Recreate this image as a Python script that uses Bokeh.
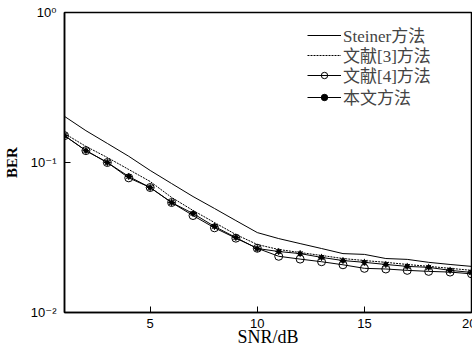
from bokeh.plotting import figure
from bokeh.models import Legend, LegendItem, FixedTicker
from bokeh.embed import file_html
from bokeh.resources import INLINE

snr = list(range(1, 21))
ber_steiner = [0.203, 0.163, 0.134, 0.110, 0.0885, 0.0724, 0.0593, 0.0494, 0.041, 0.0341,
               0.0311, 0.0288, 0.0267, 0.0247, 0.0244, 0.0229, 0.0226, 0.0216, 0.0209, 0.0203]
ber_ref3 = [0.156, 0.128, 0.108, 0.0898, 0.0747, 0.0585, 0.0479, 0.0398, 0.0331, 0.0284,
            0.0263, 0.0251, 0.024, 0.0229, 0.0222, 0.0216, 0.0209, 0.0203, 0.0197, 0.0191]
ber_ref4 = [0.151, 0.120, 0.100, 0.079, 0.0681, 0.0541, 0.0443, 0.0367, 0.0313, 0.0268,
            0.0237, 0.0227, 0.0218, 0.0208, 0.0197, 0.0195, 0.0191, 0.0188, 0.0186, 0.0181]
ber_ours = [0.151, 0.120, 0.100, 0.0807, 0.0681, 0.0541, 0.0457, 0.0375, 0.0316, 0.0267,
            0.0255, 0.0247, 0.0233, 0.0222, 0.0216, 0.0209, 0.0203, 0.0200, 0.0191, 0.0185]
labels = ["Steiner方法", "文献[3]方法", "文献[4]方法", "本文方法"]
x_ticks = [5, 10, 15, 20]
y_ticks = [0.01, 0.1, 1.0]
y_tick_labels = {0.01: "10⁻²", 0.1: "10⁻¹", 1.0: "10⁰"}

p = figure(frame_width=407, frame_height=300, output_backend="svg", toolbar_location=None,
           x_range=(1, 20), y_range=(0.01, 1.0), y_axis_type="log",
           min_border_left=60, min_border_right=5, min_border_top=12, min_border_bottom=42)
p.grid.visible = False
p.outline_line_color = "black"
p.outline_line_width = 1.5
p.background_fill_color = "white"
p.border_fill_color = "white"

r1 = p.line(snr, ber_steiner, line_color="black", line_width=1)
r2 = p.line(snr, ber_ref3, line_color="black", line_width=1, line_dash="2 1")
r3 = p.line(snr, ber_ref4, line_color="black", line_width=1)
r3m = p.scatter(snr, ber_ref4, marker="circle", size=8, fill_color="white",
                fill_alpha=0, line_color="black", line_width=1)
r4 = p.line(snr, ber_ours, line_color="black", line_width=1)
r4m = p.scatter(snr, ber_ours, marker="circle", size=4, fill_color="black", line_color="black")
r4a = p.scatter(snr, ber_ours, marker="asterisk", size=7, line_color="black", line_width=1)

font_serif = "'Liberation Serif', 'Noto Sans CJK SC'"
legend_rows = [
    (labels[0], [r1], 265),
    (labels[1], [r2], 245),
    (labels[2], [r3, r3m], 225),
    (labels[3], [r4, r4m], 203),
]
for lab, rends, ypos in legend_rows:
    lg = Legend(items=[LegendItem(label=lab, renderers=rends)], location=(243, ypos))
    lg.background_fill_alpha = 0
    lg.border_line_color = None
    lg.label_text_font = font_serif
    lg.label_text_font_size = "17px"
    lg.glyph_width = 34
    lg.glyph_height = 16
    lg.label_standoff = 2
    lg.padding = 2
    lg.label_height = 16
    p.add_layout(lg)

for ax in (p.xaxis[0], p.yaxis[0]):
    ax.axis_line_width = 1.5
    ax.axis_line_color = "black"
    ax.major_tick_in = 6
    ax.major_tick_out = 0
    ax.minor_tick_in = 0
    ax.minor_tick_out = 0
    ax.major_tick_line_color = "black"
    ax.major_tick_line_width = 1
    ax.major_label_text_font = "'Liberation Sans', 'DejaVu Sans'"
    ax.major_label_text_font_size = "13px"
    ax.major_label_text_color = "black"
    ax.axis_label_text_font = font_serif
    ax.axis_label_text_font_style = "normal"
    ax.axis_label_text_color = "black"

p.xaxis.ticker = FixedTicker(ticks=x_ticks)
p.xaxis.axis_label = "SNR/dB"
p.xaxis.axis_label_text_font_size = "18px"
p.xaxis.major_label_standoff = 6
p.xaxis.axis_label_standoff = -4

p.yaxis.ticker = FixedTicker(ticks=y_ticks)
p.yaxis.major_label_overrides = y_tick_labels
p.yaxis.axis_label = "BER"
p.yaxis.axis_label_text_font_size = "15px"
p.yaxis.axis_label_text_font_style = "bold"
p.yaxis.major_label_standoff = 8
p.yaxis.axis_label_standoff = 8

open("out.html", "w").write(file_html(p, INLINE))
